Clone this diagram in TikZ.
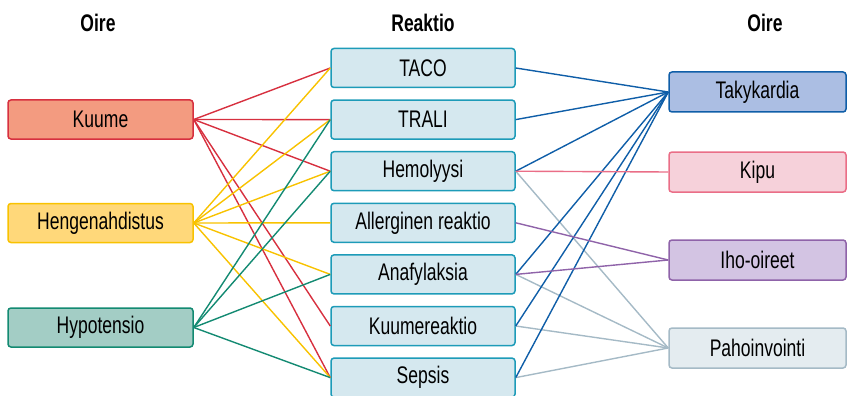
\documentclass[tikz,border=0pt]{standalone}
\usepackage{fontspec}
\setmainfont{Liberation Sans}[FakeStretch=0.73]
\usepackage{tikz}
\usetikzlibrary{positioning}
\definecolor{Red}{HTML}{D7303F}
\definecolor{Salmon}{HTML}{F39B80}
\definecolor{Gold}{HTML}{F8C200}
\definecolor{GoldLight}{HTML}{FFD87A}
\definecolor{Teal}{HTML}{138A72}
\definecolor{TealLight}{HTML}{A3CDC5}
\definecolor{Cyan}{HTML}{1D9BB8}
\definecolor{Sky}{HTML}{D5E8EF}
\definecolor{Navy}{HTML}{0F5EA8}
\definecolor{NavyLight}{HTML}{ABBEE3}
\definecolor{Rose}{HTML}{EA6E87}
\definecolor{RoseLight}{HTML}{F6D1DA}
\definecolor{Lilac}{HTML}{8F63A9}
\definecolor{LilacLight}{HTML}{D3C4E3}
\definecolor{Slate}{HTML}{A5BAC6}
\definecolor{SlateLight}{HTML}{E4ECF0}

\begin{document}
\begin{tikzpicture}[x=1pt,y=1pt,node distance=11.1pt,
  every node/.style={font=\fontsize{24}{28}\selectfont},
  box/.style={draw=#1,line width=1.5pt,rounded corners=3pt,inner sep=0pt,minimum height=39pt},
  lbox/.style={box=#1,minimum width=185pt},
  mbox/.style={box=Cyan,fill=Sky,minimum width=184pt},
  rbox/.style={box=#1,minimum width=177pt,minimum height=40pt},
  head/.style={font=\fontsize{24}{28}\selectfont\bfseries},
  link/.style={line width=1.4pt,#1}]
  \useasboundingbox (0,0) rectangle (847,-396);
  % headings
  \node[head] at (98,-23) {Oire};
  \node[head] at (423,-23) {Reaktio};
  \node[head] at (765,-23) {Oire};
  % left column
  \node[lbox=Red,fill=Salmon] (kuume) at (100.5,-119.5) {Kuume};
  \node[lbox=Gold,fill=GoldLight] (heng) at (100.5,-223) {Hengenahdistus};
  \node[lbox=Teal,fill=TealLight] (hypo) at (100.5,-327.5) {Hypotensio};
  % middle column
  \node[mbox] (taco) at (423,-68) {TACO};
  \node[mbox,below=of taco] (trali) {TRALI};
  \node[mbox,below=of trali] (hemo) {Hemolyysi};
  \node[mbox,below=of hemo] (aller) {Allerginen reaktio};
  \node[mbox,below=of aller] (ana) {Anafylaksia};
  \node[mbox,below=of ana] (kreak) {Kuumereaktio};
  \node[mbox,below=of kreak] (sepsis) {Sepsis};
  % right column
  \node[rbox=Navy,fill=NavyLight] (taky) at (757.5,-92) {Takykardia};
  \node[rbox=Rose,fill=RoseLight] (kipu) at (757.5,-172) {Kipu};
  \node[rbox=Lilac,fill=LilacLight] (iho) at (757.5,-260) {Iho-oireet};
  \node[rbox=Slate,fill=SlateLight] (paho) at (757.5,-348) {Pahoinvointi};
  % links left
  \foreach \r in {taco,trali,hemo,kreak,sepsis}
    \draw[link=Red] (kuume.east) -- (\r.west);
  \foreach \r in {taco,trali,hemo,aller,ana,sepsis}
    \draw[link=Gold] (heng.east) -- (\r.west);
  \foreach \r in {trali,hemo,ana,sepsis}
    \draw[link=Teal] (hypo.east) -- (\r.west);
  % links right
  \foreach \r in {hemo,ana,kreak,sepsis}
    \draw[link=Slate] (\r.east) -- (paho.west);
  \foreach \r in {taco,trali,hemo,ana,kreak,sepsis}
    \draw[link=Navy] (\r.east) -- (taky.west);
  \draw[link=Rose] (hemo.east) -- (kipu.west);
  \foreach \r in {aller,ana}
    \draw[link=Lilac] (\r.east) -- (iho.west);
\end{tikzpicture}
\end{document}
